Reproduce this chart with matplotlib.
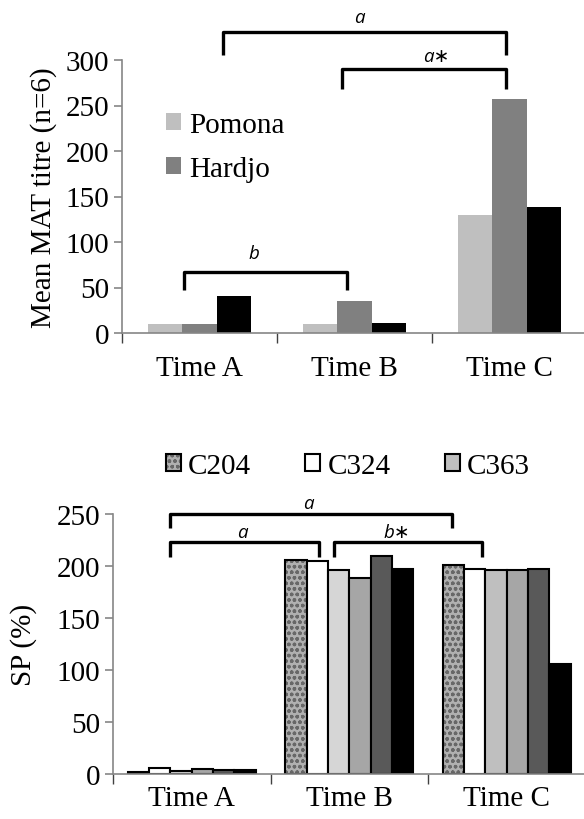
import matplotlib
matplotlib.use('Agg')
import matplotlib.pyplot as plt
from matplotlib.patches import Patch
from matplotlib.legend_handler import HandlerTuple

plt.rcParams['font.family'] = ['Liberation Serif', 'DejaVu Serif']

tiempos = ['Time A', 'Time B', 'Time C']

# grafico de arriba: titulos MAT
pomona = [10, 10, 130]
hardjo = [10, 35, 257]
tercera = [41, 11, 139]

# grafico de abajo: SP (%)
c204 = [1.5, 206, 200.5]
c324 = [5.5, 205, 197]
c363 = [2.5, 196.5, 196]
serie4 = [4.5, 188, 196]
serie5 = [3.5, 209.5, 197.5]
serie6 = [3.5, 197.5, 106]

# corchetes de significancia: (x0, x1, y_arriba, y_patas, etiqueta, x_etiqueta, y_etiqueta)
corchetes_arriba = [
    (0.15, 1.98, 331, 305, 'a', 1.03, 347),
    (0.92, 1.98, 290, 268, 'a\u2217', 1.53, 304),
    (-0.10, 0.95, 67, 47, 'b', 0.35, 88),
]
corchetes_abajo = [
    (-0.14, 1.65, 250, 237, 'a', 0.74, 261),
    (-0.14, 0.81, 223, 209, 'a', 0.32, 233),
    (0.90, 1.84, 223, 209, 'b\u2217', 1.30, 233),
]

FS = 21
GRIS_EJE = '#868686'


def estilo_ejes(ax, ymax, paso):
    ax.set_xlim(-0.5, 2.5)
    ax.set_ylim(0, ymax)
    ax.spines['top'].set_visible(False)
    ax.spines['right'].set_visible(False)
    for s in ['left', 'bottom']:
        ax.spines[s].set_color(GRIS_EJE)
        ax.spines[s].set_linewidth(1.2)
    ax.set_yticks(range(0, ymax + 1, paso))
    ax.tick_params(axis='y', labelsize=FS, length=6, color=GRIS_EJE, width=1.2, pad=3)
    ax.set_xticks([0, 1, 2])
    ax.set_xticklabels(tiempos)
    ax.tick_params(axis='x', which='major', length=0, labelsize=FS)
    ax.set_xticks([-0.5, 0.5, 1.5], minor=True)
    ax.tick_params(axis='x', which='minor', length=7, color='#404040', width=1)


def dibujar_corchetes(ax, corchetes):
    for x0, x1, ya, yp, txt, xt, yt in corchetes:
        ax.plot([x0, x0, x1, x1], [yp, ya, ya, yp], color='black', lw=2.4,
                solid_joinstyle='round', solid_capstyle='butt', clip_on=False)
        ax.text(xt, yt, txt, ha='center', va='center', fontsize=13.5, style='italic',
                family=['Open Sans', 'DejaVu Sans'], clip_on=False)


fig = plt.figure(figsize=(5.84, 8.2), dpi=100)

# ---- arriba ----
ax1 = fig.add_axes([122 / 584, 1 - 334 / 820, 465 / 584, 273 / 820])
ax1.patch.set_alpha(0)
ancho = 0.222
x = [0, 1, 2]
b1 = ax1.bar([i - ancho for i in x], pomona, ancho, color='#bfbfbf', label='Pomona')
b2 = ax1.bar(x, hardjo, ancho, color='#808080', label='Hardjo')
ax1.bar([i + ancho for i in x], tercera, ancho, color='black')
estilo_ejes(ax1, 300, 50)
ax1.tick_params(axis='x', which='major', pad=16)
ax1.set_ylabel('Mean MAT titre (n=6)', fontsize=FS, labelpad=6)
dibujar_corchetes(ax1, corchetes_arriba)
ax1.legend(handles=[b1, b2], loc='upper left', bbox_to_anchor=(0.095, 0.81), frameon=False,
           fontsize=FS, handlelength=0.52, handleheight=0.52, handletextpad=0.28,
           labelspacing=0.62, borderaxespad=0, borderpad=0)

# ---- abajo ----
ax2 = fig.add_axes([113 / 584, 1 - 775 / 820, 472.5 / 584, 260 / 820])
ax2.patch.set_alpha(0)
w = 0.135
series = [c204, c324, c363, serie4, serie5, serie6]
colores = ['#b0b0b0', 'white', '#d6d6d6', '#a6a6a6', '#595959', 'black']
barras = []
for k, (vals, col) in enumerate(zip(series, colores)):
    pos = [i + (k - 2.5) * w for i in x]
    if k == 0:
        ax2.bar(pos, vals, w, color=col, edgecolor='#686868', linewidth=0, hatch='ooo')
        b = ax2.bar(pos, vals, w, fill=False, edgecolor='black', linewidth=1.5)
    else:
        b = ax2.bar(pos, vals, w, color=col, edgecolor='black', linewidth=1.5)
    barras.append(b)
# la tercera serie en Time C es algo mas oscura
barras[2][2].set_facecolor('#bfbfbf')
estilo_ejes(ax2, 250, 50)
ax2.tick_params(axis='x', which='major', pad=8)
ax2.set_ylabel('SP (%)', fontsize=FS, labelpad=14)
dibujar_corchetes(ax2, corchetes_abajo)

h204 = (Patch(facecolor='#b0b0b0', edgecolor='#686868', linewidth=0, hatch='ooo'),
        Patch(fill=False, edgecolor='black', linewidth=1.5))
h324 = Patch(facecolor='white', edgecolor='black', linewidth=1.5)
h363 = Patch(facecolor='#bfbfbf', edgecolor='black', linewidth=1.5)
ax2.legend(handles=[h204, h324, h363], labels=['C204', 'C324', 'C363'],
           handler_map={tuple: HandlerTuple(ndivide=1)},
           loc='center', bbox_to_anchor=(0.497, 1.185), ncol=3, frameon=False,
           fontsize=FS, handlelength=0.52, handleheight=0.52, handletextpad=0.25,
           columnspacing=1.85)

fig.savefig('out.png', dpi=100)
